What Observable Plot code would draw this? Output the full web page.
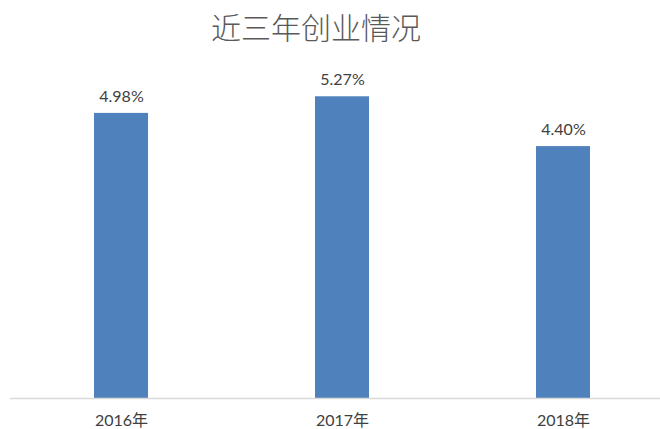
<!DOCTYPE html>
<html>
<head>
<meta charset="utf-8">
<script src="https://cdn.jsdelivr.net/npm/d3@7"></script>
<script src="https://cdn.jsdelivr.net/npm/@observablehq/plot@0.6"></script>
<style>
  html, body { margin: 0; padding: 0; background: #fff; }
  #wrap { width: 660px; height: 429px; overflow: hidden; }
  #title {
    width: 660px; height: 60px; line-height: 52px;
    text-align: center; box-sizing: border-box; padding-right: 28px;
    font-family: "Noto Sans CJK SC", sans-serif; font-size: 30px;
    color: #595959; font-weight: 300;
  }
</style>
</head>
<body>
<div id="wrap">
  <div id="title">近三年创业情况</div>
  <div id="chart"></div>
</div>
<script>
const years = ["2016年", "2017年", "2018年"];
const rates = [4.98, 5.27, 4.40];
const labels = ["4.98%", "5.27%", "4.40%"];

const data = years.map((y, i) => ({year: y, rate: rates[i], label: labels[i]}));

const chart = Plot.plot({
  width: 660,
  height: 369,
  marginTop: 38,
  marginBottom: 31,
  marginLeft: 10,
  marginRight: 0,
  style: {fontFamily: "Lato, 'Noto Sans CJK SC', sans-serif", fontSize: "16px", color: "#595959", background: "#fff"},
  x: {domain: years, range: [9, 674], paddingInner: 0.756, paddingOuter: 0.378, label: null},
  y: {domain: [0, 5.24], axis: null},
  marks: [
    Plot.barY(data, {x: "year", y: "rate", fill: "#4f81bd"}),
    Plot.ruleY([0], {stroke: "#d9d9d9", strokeWidth: 1.5}),
    Plot.text(data, {x: "year", y: "rate", text: "label", dy: -17, fill: "#404040", fontSize: 16}),
    Plot.axisX({tickSize: 0, tickPadding: 16, fontSize: 16, fill: "#404040"})
  ]
});
document.getElementById("chart").appendChild(chart);
</script>
</body>
</html>
